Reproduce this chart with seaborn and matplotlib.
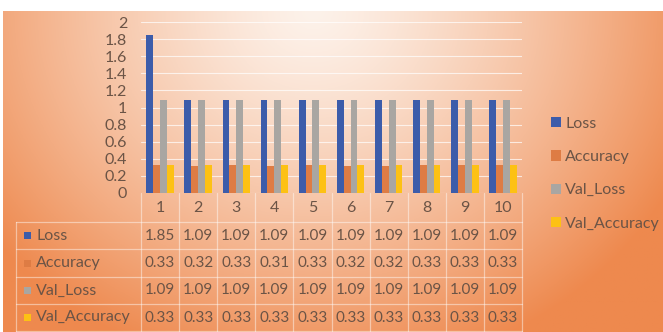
import numpy as np
import pandas as pd
import matplotlib
matplotlib.use("Agg")
import matplotlib.pyplot as plt
from matplotlib.patches import Patch, Rectangle
import seaborn as sns

# Training history per epoch
epochs = [1, 2, 3, 4, 5, 6, 7, 8, 9, 10]
loss = [1.85, 1.09, 1.09, 1.09, 1.09, 1.09, 1.09, 1.09, 1.09, 1.09]
accuracy = [0.33, 0.32, 0.33, 0.31, 0.33, 0.32, 0.32, 0.33, 0.33, 0.33]
val_loss = [1.09, 1.09, 1.09, 1.09, 1.09, 1.09, 1.09, 1.09, 1.09, 1.09]
val_accuracy = [0.33, 0.33, 0.33, 0.33, 0.33, 0.33, 0.33, 0.33, 0.33, 0.33]
metric_names = ["Loss", "Accuracy", "Val_Loss", "Val_Accuracy"]
y_ticks = [0, 0.2, 0.4, 0.6, 0.8, 1, 1.2, 1.4, 1.6, 1.8, 2]
y_tick_labels = ["0", "0.2", "0.4", "0.6", "0.8", "1", "1.2", "1.4", "1.6", "1.8", "2"]

series = [loss, accuracy, val_loss, val_accuracy]
colors = ["#3C5CAA", "#DE7C44", "#A9A6A2", "#FDC114"]
text_col = "#6B5446"

df = pd.DataFrame({
    "Epoch": np.tile(epochs, len(metric_names)),
    "Metric": np.repeat(metric_names, len(epochs)),
    "Value": np.concatenate(series),
})

sns.set_theme(style="white")
plt.rcParams["font.family"] = ["Lato", "DejaVu Sans"]

W, H = 663, 332
fig = plt.figure(figsize=(W / 100, H / 100), dpi=100, facecolor="white")

# Orange gradient backdrop, lighter towards the upper middle
bg = fig.add_axes([3 / W, 0, (W - 3) / W, (H - 11) / H])
bg.set_axis_off()
gx, gy = np.meshgrid(np.linspace(0, 1, 400), np.linspace(0, 1, 200))
d = np.sqrt(((gx - 0.47) / 0.62) ** 2 + ((gy - 0.0) / 1.15) ** 2)
t = np.clip(d, 0, 1) ** 1.3
light = np.array([253, 242, 234]) / 255
dark = np.array([238, 137, 78]) / 255
img = light[None, None, :] * (1 - t[..., None]) + dark[None, None, :] * t[..., None]
bg.imshow(img, aspect="auto", extent=[0, 1, 1, 0])
bg.set_xlim(0, 1)
bg.set_ylim(1, 0)

# Plot area
x0, x1 = 141, 522
y_top, y_zero = 22, 193
ax = fig.add_axes([x0 / W, (H - y_zero) / H, (x1 - x0) / W, (y_zero - y_top) / H])
ax.patch.set_alpha(0)
sns.barplot(data=df, x="Epoch", y="Value", hue="Metric", hue_order=metric_names,
            palette=colors, width=0.72, saturation=1, ax=ax, legend=False,
            edgecolor="none", zorder=3)
ax.set_ylim(0, 2)
ax.set_xlim(-0.5, len(epochs) - 0.5)
ax.set_yticks(y_ticks)
ax.set_yticklabels(y_tick_labels, fontsize=11.5, color=text_col)
ax.set_xticks(range(len(epochs)))
ax.set_xticklabels([str(e) for e in epochs], fontsize=11.5, color=text_col)
ax.tick_params(axis="y", length=0, pad=10)
ax.tick_params(axis="x", length=0, pad=6)
ax.set_xlabel("")
ax.set_ylabel("")
for s in ax.spines.values():
    s.set_visible(False)
ax.yaxis.grid(True, color="white", alpha=0.7, lw=0.8, zorder=0)
ax.set_axisbelow(True)

# Legend
handles = [Patch(facecolor=c, edgecolor="none") for c in colors]
leg = fig.legend(handles, metric_names, loc="upper left",
                 bbox_to_anchor=(551 / W, (H - 117) / H), frameon=False,
                 fontsize=11.5, handlelength=0.6, handleheight=0.6,
                 handletextpad=0.3, labelspacing=1.2, borderpad=0, borderaxespad=0)
for txt in leg.get_texts():
    txt.set_color(text_col)

# Data table below the plot
ov = fig.add_axes([0, 0, 1, 1])
ov.set_axis_off()
ov.patch.set_alpha(0)
ov.set_xlim(0, W)
ov.set_ylim(H, 0)
col_w = (x1 - x0) / len(epochs)
rows_y = [222, 249, 277, 304, 331]
line_kw = dict(color="white", alpha=0.45, lw=0.9)
for yy in rows_y:
    ov.plot([16, x1], [yy, yy], **line_kw)
ov.plot([16, 16], [rows_y[0], rows_y[-1]], **line_kw)
for k in range(len(epochs) + 1):
    ov.plot([x0 + k * col_w] * 2, [y_zero, rows_y[-1]], **line_kw)

for r, (name, vals, c) in enumerate(zip(metric_names, series, colors)):
    yc = (rows_y[r] + rows_y[r + 1]) / 2
    ov.add_patch(Rectangle((24, yc - 3.5), 7, 7, facecolor=c, edgecolor="none"))
    ov.text(36, yc, name, ha="left", va="center", fontsize=11.5, color=text_col)
    for k, v in enumerate(vals):
        ov.text(x0 + (k + 0.5) * col_w, yc, f"{v:.2f}", ha="center", va="center",
                fontsize=11, color=text_col)

fig.savefig("out.png", dpi=100, facecolor="white")
